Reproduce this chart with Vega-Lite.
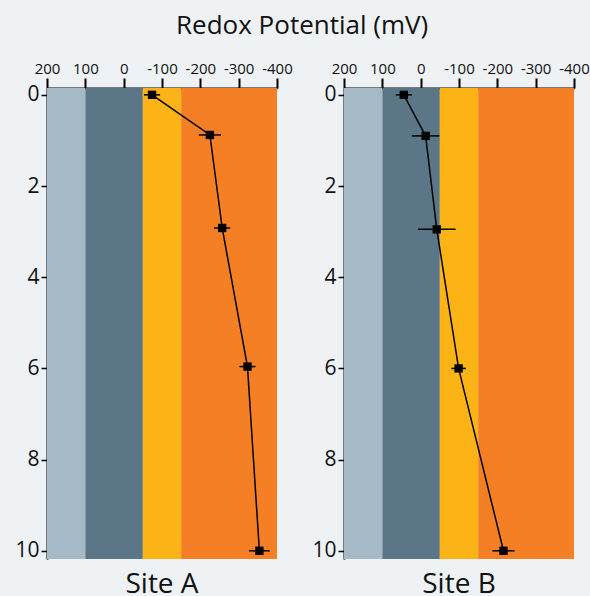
{
  "$schema": "https://vega.github.io/schema/vega-lite/v6.json",
  "background": "#eef2f5",
  "padding": {"left": 14, "top": 13, "right": 5, "bottom": 12},
  "title": {"text": "Redox Potential (mV)", "fontSize": 26, "fontWeight": "normal", "color": "#111", "anchor": "middle", "offset": 22},
  "datasets": {
    "bands": [
      {"mv": 200, "mv2": 100, "zone": "z1"},
      {"mv": 100, "mv2": -50, "zone": "z2"},
      {"mv": -50, "mv2": -150, "zone": "z3"},
      {"mv": -150, "mv2": -400, "zone": "z4"}
    ],
    "obs": [
      {"site": "A", "depth": 0, "mv": -74, "err": 21},
      {"site": "A", "depth": 0.88, "mv": -225, "err": 29},
      {"site": "A", "depth": 2.92, "mv": -257, "err": 21},
      {"site": "A", "depth": 5.96, "mv": -323, "err": 21},
      {"site": "A", "depth": 10, "mv": -354, "err": 27},
      {"site": "B", "depth": 0, "mv": 44, "err": 21},
      {"site": "B", "depth": 0.9, "mv": -13, "err": 36},
      {"site": "B", "depth": 2.95, "mv": -42, "err": 49},
      {"site": "B", "depth": 6, "mv": -99, "err": 19},
      {"site": "B", "depth": 10, "mv": -216, "err": 29}
    ]
  },
  "config": {
    "font": "Open Sans",
    "view": {"stroke": null},
    "axis": {"labelColor": "#111", "domainColor": "#000", "tickColor": "#000", "grid": false, "title": null, "labelOverlap": false, "labelFlush": false}
  },
  "spacing": 67,
  "bounds": "flush",
  "hconcat": [
    {
      "width": 230,
      "height": 471,
      "title": {"text": "Site A", "orient": "bottom", "fontSize": 28, "fontWeight": "normal", "color": "#111", "offset": 10},
      "encoding": {
        "x": {"field": "mv", "type": "quantitative", "title": null, "scale": {"domain": [200, -400], "nice": false, "zero": false},
          "axis": {"orient": "top", "title": null, "values": [200, 100, 0, -100, -200, -300, -400], "labelExpr": "'' + datum.value", "labelFontSize": 15, "tickSize": 10, "tickWidth": 2, "domainWidth": 2, "labelPadding": 2, "labelOverlap": false, "labelFlush": false}}
      },
      "layer": [
        {
          "data": {"name": "bands"},
          "mark": {"type": "rect"},
          "encoding": {
            "x2": {"field": "mv2"},
            "color": {"field": "zone", "type": "nominal", "legend": null,
              "scale": {"domain": ["z1", "z2", "z3", "z4"], "range": ["#a5bac6", "#5b7687", "#fcb316", "#f47f24"]}}
          }
        },
        {
          "data": {"name": "obs"},
          "transform": [{"filter": "datum.site == 'A'"}],
          "mark": {"type": "errorbar", "color": "#000", "thickness": 1.5},
          "encoding": {
            "xError": {"field": "err"},
            "y": {"field": "depth", "type": "quantitative", "title": null}
          }
        },
        {
          "data": {"name": "obs"},
          "transform": [{"filter": "datum.site == 'A'"}],
          "mark": {"type": "line", "color": "#000", "strokeWidth": 1.5},
          "encoding": {
            "y": {"field": "depth", "type": "quantitative", "title": null, "scale": {"domain": [-0.15, 10.18], "reverse": true, "nice": false, "zero": false},
              "axis": {"orient": "left", "title": null, "values": [0, 2, 4, 6, 8, 10], "labelFontSize": 21, "tickSize": 6, "tickWidth": 1.5, "domainWidth": 2, "labelPadding": 2}},
            "order": {"field": "depth", "type": "quantitative"}
          }
        },
        {
          "data": {"name": "obs"},
          "transform": [{"filter": "datum.site == 'A'"}],
          "mark": {"type": "point", "shape": "square", "filled": true, "size": 70, "color": "#000", "opacity": 1},
          "encoding": {
            "y": {"field": "depth", "type": "quantitative", "title": null}
          }
        }
      ]
    },
    {
      "width": 230,
      "height": 471,
      "title": {"text": "Site B", "orient": "bottom", "fontSize": 28, "fontWeight": "normal", "color": "#111", "offset": 10},
      "encoding": {
        "x": {"field": "mv", "type": "quantitative", "title": null, "scale": {"domain": [200, -400], "nice": false, "zero": false},
          "axis": {"orient": "top", "title": null, "values": [200, 100, 0, -100, -200, -300, -400], "labelExpr": "'' + datum.value", "labelFontSize": 15, "tickSize": 10, "tickWidth": 2, "domainWidth": 2, "labelPadding": 2, "labelOverlap": false, "labelFlush": false}}
      },
      "layer": [
        {
          "data": {"name": "bands"},
          "mark": {"type": "rect"},
          "encoding": {
            "x2": {"field": "mv2"},
            "color": {"field": "zone", "type": "nominal", "legend": null,
              "scale": {"domain": ["z1", "z2", "z3", "z4"], "range": ["#a5bac6", "#5b7687", "#fcb316", "#f47f24"]}}
          }
        },
        {
          "data": {"name": "obs"},
          "transform": [{"filter": "datum.site == 'B'"}],
          "mark": {"type": "errorbar", "color": "#000", "thickness": 1.5},
          "encoding": {
            "xError": {"field": "err"},
            "y": {"field": "depth", "type": "quantitative", "title": null}
          }
        },
        {
          "data": {"name": "obs"},
          "transform": [{"filter": "datum.site == 'B'"}],
          "mark": {"type": "line", "color": "#000", "strokeWidth": 1.5},
          "encoding": {
            "y": {"field": "depth", "type": "quantitative", "title": null, "scale": {"domain": [-0.15, 10.18], "reverse": true, "nice": false, "zero": false},
              "axis": {"orient": "left", "title": null, "values": [0, 2, 4, 6, 8, 10], "labelFontSize": 21, "tickSize": 6, "tickWidth": 1.5, "domainWidth": 2, "labelPadding": 2}},
            "order": {"field": "depth", "type": "quantitative"}
          }
        },
        {
          "data": {"name": "obs"},
          "transform": [{"filter": "datum.site == 'B'"}],
          "mark": {"type": "point", "shape": "square", "filled": true, "size": 70, "color": "#000", "opacity": 1},
          "encoding": {
            "y": {"field": "depth", "type": "quantitative", "title": null}
          }
        }
      ]
    }
  ]
}
